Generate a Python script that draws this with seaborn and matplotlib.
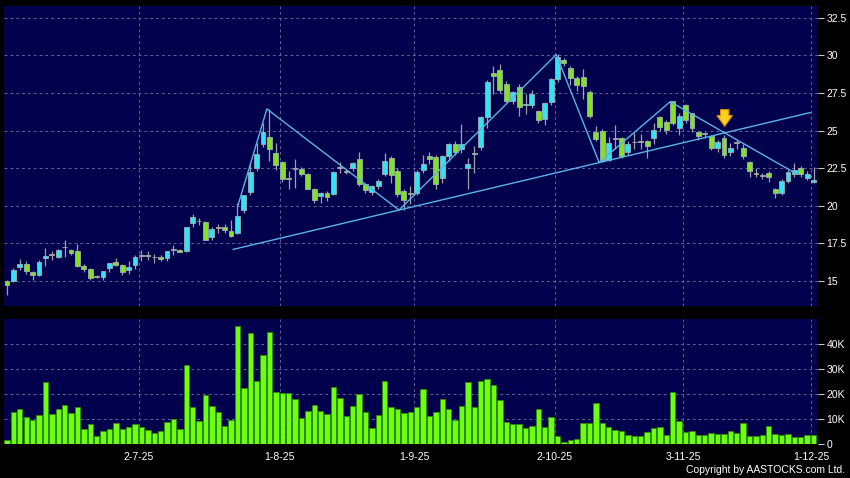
import numpy as np
import pandas as pd
import matplotlib
matplotlib.use("Agg")
import matplotlib.pyplot as plt
import seaborn as sns

sns.set_theme(style="dark")
plt.rcParams.update({
    "axes.facecolor": "#00004c",
    "figure.facecolor": "black",
    "savefig.facecolor": "black",
    "text.color": "white",
    "axes.edgecolor": "#00004c",
})
plt.rcParams["font.family"] = ["Liberation Sans", "DejaVu Sans"]

# --- Data (HK trading days, 2 Jun 2025 .. 1 Dec 2025) ---
HOLIDAYS = ["2025-07-01", "2025-10-01", "2025-10-07", "2025-10-29"]
DATES = pd.bdate_range("2025-06-02", "2025-12-01", freq="C", holidays=HOLIDAYS)

OPEN = [15.0, 15.0, 15.95, 16.12, 15.6, 15.4, 16.5, 16.74, 16.63, 17.24,
        17.07, 16.98, 16.01, 15.8, 15.33, 15.26, 15.9, 16.28, 16.06, 15.73,
        16.06, 16.67, 16.68, 16.57, 16.57, 16.52, 17.05, 17.06, 16.97, 18.87,
        18.96, 18.92, 17.9, 18.52, 18.6, 18.3, 18.2, 19.7, 20.9, 22.5,
        24.1, 24.57, 23.53, 22.93, 21.8, 22.48, 22.42, 22.1, 21.15, 20.66,
        20.82, 20.78, 22.52, 22.28, 22.49, 23.12, 21.47, 20.92, 21.33, 22.14,
        23.2, 22.34, 20.98, 20.8, 20.87, 22.4, 23.28, 23.24, 21.84, 23.33,
        24.08, 23.78, 22.5, 23.45, 23.92, 25.88, 28.8, 29.0, 28.1, 27.0,
        27.93, 26.72, 26.7, 26.3, 25.8, 26.92, 28.45, 29.69, 29.15, 28.5,
        28.57, 27.55, 24.9, 24.95, 23.07, 24.47, 24.5, 23.6, 24.22, 24.23,
        24.3, 24.54, 25.9, 25.56, 26.96, 25.18, 26.7, 26.15, 24.93, 24.76,
        24.62, 23.82, 24.49, 23.58, 24.18, 23.82, 22.93, 22.12, 21.97, 22.2,
        21.1, 20.85, 21.62, 22.09, 22.53, 21.85, 21.55]
HIGH = [15.05, 15.85, 16.45, 16.3, 15.65, 16.4, 17.2, 17.0, 17.1, 17.73,
        17.1, 17.45, 16.15, 15.9, 15.4, 15.7, 16.2, 16.5, 16.1, 16.3,
        16.7, 17.07, 16.97, 16.8, 16.7, 17.0, 17.4, 17.1, 18.6, 19.45,
        19.2, 18.96, 18.6, 18.76, 18.76, 19.05, 20.2, 20.74, 22.9, 24.2,
        25.5, 26.44, 24.2, 23.0, 22.3, 23.1, 22.6, 22.2, 21.2, 20.95,
        21.0, 22.3, 22.94, 22.45, 22.9, 23.6, 21.5, 21.4, 21.75, 23.5,
        23.3, 22.5, 21.1, 21.3, 22.35, 23.4, 23.6, 23.4, 23.4, 24.2,
        24.3, 25.42, 23.2, 23.95, 26.0, 28.35, 29.3, 29.45, 28.3, 27.65,
        28.1, 27.4, 27.7, 26.4, 26.9, 28.5, 30.08, 29.85, 29.3, 28.6,
        29.1, 27.7, 25.3, 25.1, 24.6, 25.4, 24.6, 24.3, 24.85, 24.8,
        24.4, 25.5, 26.0, 25.7, 27.0, 26.2, 26.8, 26.2, 25.0, 24.9,
        24.7, 24.4, 24.7, 24.2, 24.4, 24.1, 23.0, 22.5, 22.2, 22.3,
        21.2, 21.75, 22.35, 22.85, 22.65, 22.3, 22.55]
LOW = [14.1, 14.95, 15.75, 15.45, 15.1, 15.35, 16.0, 16.4, 16.55, 16.6,
       16.7, 15.95, 15.6, 15.1, 15.2, 15.05, 15.6, 16.0, 15.4, 15.5,
       15.8, 16.3, 16.37, 16.2, 16.3, 16.3, 16.7, 16.9, 16.95, 18.6,
       18.7, 17.7, 17.7, 18.2, 18.2, 17.9, 18.15, 19.5, 20.7, 22.3,
       23.9, 23.0, 22.4, 21.6, 21.1, 21.2, 22.0, 21.1, 20.2, 20.2,
       20.3, 20.7, 22.17, 22.1, 22.3, 21.3, 20.85, 20.7, 21.15, 22.0,
       21.5, 20.6, 19.72, 20.1, 20.7, 22.2, 22.8, 21.1, 21.5, 23.0,
       23.4, 23.5, 21.1, 22.2, 23.7, 25.2, 27.45, 27.5, 26.9, 26.8,
       26.0, 26.1, 26.5, 25.5, 25.4, 26.7, 28.2, 29.3, 28.0, 27.6,
       27.1, 25.85, 24.3, 22.9, 22.95, 23.76, 23.15, 23.4, 23.76, 23.8,
       23.2, 24.1, 25.0, 24.8, 25.4, 24.7, 25.5, 24.9, 24.4, 24.5,
       23.7, 23.6, 23.2, 23.3, 23.8, 23.1, 21.9, 21.9, 21.8, 21.6,
       20.55, 20.7, 21.5, 21.9, 21.9, 21.7, 21.5]
CLOSE = [14.72, 15.75, 16.1, 15.7, 15.4, 16.28, 16.67, 16.76, 17.07, 17.26,
         16.85, 15.97, 15.8, 15.2, 15.3, 15.68, 16.19, 16.06, 15.6, 15.95,
         16.59, 16.69, 16.66, 16.58, 16.46, 16.97, 17.07, 16.95, 18.56, 19.23,
         18.97, 17.72, 18.43, 18.53, 18.39, 17.99, 19.32, 20.72, 22.28, 23.44,
         24.93, 23.77, 22.71, 21.76, 21.77, 22.5, 22.1, 21.15, 20.37, 20.82,
         20.56, 22.24, 22.55, 22.29, 22.84, 21.47, 21.07, 21.3, 21.66, 23.0,
         22.07, 20.79, 20.38, 20.82, 22.28, 22.8, 23.1, 21.47, 23.33, 24.12,
         23.58, 24.12, 22.76, 23.5, 25.88, 28.26, 28.6, 27.68, 27.0, 27.58,
         26.56, 26.76, 27.4, 25.73, 26.84, 28.4, 29.9, 29.5, 28.5, 28.03,
         27.97, 25.98, 24.45, 23.07, 24.2, 24.49, 23.3, 24.12, 24.24, 24.25,
         23.96, 25.05, 25.25, 25.02, 25.52, 26.0, 25.72, 25.2, 24.62, 24.78,
         23.82, 24.27, 23.38, 23.86, 24.2, 23.33, 22.33, 22.14, 21.99, 21.93,
         20.85, 21.62, 22.25, 22.35, 22.09, 22.1, 21.7]
VOLUME_K = [1.6, 12.8, 13.9, 10.8, 9.5, 11.6, 24.7, 12.0, 13.9, 15.3,
            12.1, 14.5, 5.9, 7.9, 3.2, 5.2, 5.7, 8.1, 5.9, 6.8,
            7.9, 6.8, 5.5, 4.1, 5.2, 8.5, 9.9, 5.7, 31.5, 14.5,
            9.1, 19.6, 14.9, 12.7, 7.1, 9.5, 47.3, 22.3, 44.4, 25.2,
            35.3, 44.5, 20.7, 20.4, 20.4, 17.9, 10.4, 13.1, 15.5, 13.2,
            11.9, 22.5, 18.3, 11.1, 14.9, 19.9, 12.7, 6.3, 11.3, 24.9,
            14.5, 14.0, 12.1, 12.5, 14.5, 21.9, 11.1, 12.7, 17.7, 13.7,
            9.5, 15.1, 24.8, 14.5, 25.1, 25.7, 23.5, 17.5, 8.7, 7.7,
            7.9, 6.3, 6.9, 13.7, 6.7, 10.7, 3.1, 0.8, 1.3, 1.9,
            8.4, 8.1, 16.4, 8.4, 6.5, 5.3, 4.9, 3.5, 3.2, 3.2,
            4.8, 6.1, 6.5, 3.5, 20.7, 9.2, 4.8, 5.1, 3.6, 3.6,
            4.3, 3.9, 4.0, 4.9, 4.1, 8.3, 3.1, 2.9, 3.3, 6.9,
            4.0, 3.3, 3.9, 2.5, 2.7, 3.3, 3.3]

TICK_DATES = ["2025-07-02", "2025-08-01", "2025-09-01", "2025-10-02", "2025-11-03", "2025-12-01"]
TICK_LABELS = ["2-7-25", "1-8-25", "1-9-25", "2-10-25", "3-11-25", "1-12-25"]
PRICE_TICKS = [15, 17.5, 20, 22.5, 25, 27.5, 30, 32.5]
VOL_TICKS = [0, 10, 20, 30, 40]

# hand-drawn analysis lines (bar position, price)
ZIGZAG_X = [36.1, 40.6, 61.25, 85.8, 92.5, 103.6, 123.1]
ZIGZAG_Y = [20.05, 26.44, 19.72, 30.05, 22.88, 26.92, 22.18]
SUPPORT_X = [35.3, 125.5]
SUPPORT_Y = [17.1, 26.2]

UP_C, DOWN_C, FLAT_C = "#30e4f4", "#84e224", "#a8a8a8"
LINE_C = "#5ab4e6"
GRID_C = "#60609a"

df = pd.DataFrame({"date": DATES, "open": OPEN, "high": HIGH, "low": LOW,
                   "close": CLOSE, "vol": VOLUME_K})
df["pos"] = np.arange(len(df))
# the site draws date ticks half a bar left of the candle
tick_pos = [int(df.index[df["date"] == pd.Timestamp(d)][0]) - 0.4 for d in TICK_DATES]

fig = plt.figure(figsize=(8.5, 4.78), dpi=100)
ax_p = fig.add_axes([0.0047, 0.3598, 0.9577, 0.6276])
ax_v = fig.add_axes([0.0047, 0.0711, 0.9577, 0.2615])

# --- candles ---
diff = df["close"] - df["open"]
flat = diff.abs() < 0.04
body_col = np.where(flat, FLAT_C, np.where(diff > 0, UP_C, DOWN_C))
edge_col = np.where(flat, FLAT_C, "#9ab0b4")
ax_p.vlines(df["pos"], df["low"], df["high"], color="#a0a0a0", lw=0.9, zorder=2)
ax_p.bar(df["pos"], np.maximum(diff.abs(), 0.05), bottom=np.minimum(df["open"], df["close"]),
         width=0.76, color=body_col, edgecolor=edge_col, linewidth=0.6, zorder=3)

# --- analysis lines ---
ax_p.plot(ZIGZAG_X, ZIGZAG_Y, color=LINE_C, lw=1.0, zorder=4)
ax_p.plot(SUPPORT_X, SUPPORT_Y, color=LINE_C, lw=1.0, zorder=4)

# arrow where the last down-leg crosses the support line
m1 = (ZIGZAG_Y[-1] - ZIGZAG_Y[-2]) / (ZIGZAG_X[-1] - ZIGZAG_X[-2])
m2 = (SUPPORT_Y[1] - SUPPORT_Y[0]) / (SUPPORT_X[1] - SUPPORT_X[0])
xi = (SUPPORT_Y[0] - m2 * SUPPORT_X[0] - ZIGZAG_Y[-2] + m1 * ZIGZAG_X[-2]) / (m1 - m2)
yi = ZIGZAG_Y[-2] + m1 * (xi - ZIGZAG_X[-2])
ax_p.annotate("", xy=(xi, yi + 0.25), xytext=(0, 16), textcoords="offset points",
              arrowprops=dict(arrowstyle="simple,head_length=0.7,head_width=1.0,tail_width=0.55",
                              fc="#ffd21f", ec="#e08a00", lw=0.8, mutation_scale=11),
              zorder=6)

# --- volume ---
sns.barplot(x=df["pos"], y=df["vol"], native_scale=True, width=0.84, color="#6cff12",
            edgecolor="#2f8a00", linewidth=0.6, saturation=1, errorbar=None, ax=ax_v, zorder=3)

for ax in (ax_p, ax_v):
    ax.set_xlim(-0.47, 126.7)
    ax.set_xticks(tick_pos)
    ax.grid(True, color=GRID_C, linestyle=(0, (3, 3)), linewidth=0.7, zorder=1)
    ax.set_axisbelow(True)
    ax.yaxis.tick_right()
    ax.set_xlabel("")
    ax.set_ylabel("")
    for s in ax.spines.values():
        s.set_visible(False)
    ax.tick_params(axis="y", colors="#c8c8c8", labelcolor="white", length=4, width=0.8,
                   pad=2, labelsize=7.5, direction="out")

ax_p.set_ylim(13.34, 33.28)
ax_p.set_yticks(PRICE_TICKS)
ax_p.set_yticklabels([f"{v:g}" for v in PRICE_TICKS])
ax_p.tick_params(axis="x", length=0, labelbottom=False)

ax_v.set_ylim(-0.2, 49.9)
ax_v.set_yticks(VOL_TICKS)
ax_v.set_yticklabels([f"{v}K" if v else "0" for v in VOL_TICKS])
ax_v.set_xticklabels(TICK_LABELS)
ax_v.tick_params(axis="x", colors="#c8c8c8", labelcolor="white", length=3, width=0.8,
                 pad=3, labelsize=7.5, direction="out")

fig.text(0.994, 0.006, "Copyright by AASTOCKS.com Ltd.", ha="right", va="bottom",
         color="white", fontsize=7.5)

fig.savefig("out.png", dpi=100)
